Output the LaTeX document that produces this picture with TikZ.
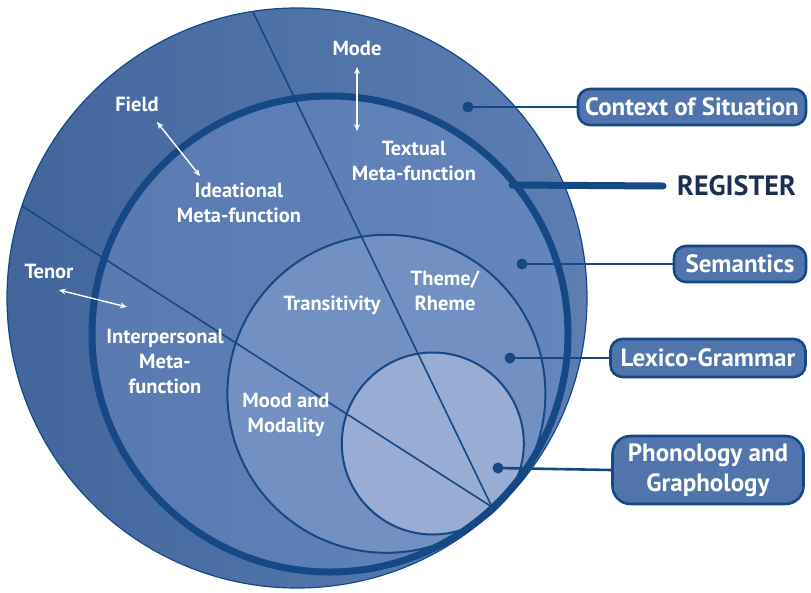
\documentclass[tikz,border=0pt]{standalone}
\usepackage{fontspec}
\setmainfont{PT Sans}
\usetikzlibrary{arrows.meta}
\definecolor{ringAl}{RGB}{66,102,156}
\definecolor{ringAr}{RGB}{92,126,178}
\definecolor{ringBl}{RGB}{88,122,176}
\definecolor{ringBr}{RGB}{100,134,188}
\definecolor{ringC}{RGB}{114,144,194}
\definecolor{ringD}{RGB}{152,172,212}
\definecolor{edge}{RGB}{22,72,134}
\definecolor{boxfill}{RGB}{82,116,172}
\definecolor{regtext}{RGB}{28,48,78}
\tikzset{
  lbl/.style={text=white, font=\bfseries\fontsize{20.5}{25}\selectfont, align=center, inner sep=0pt},
  boxlbl/.style={draw=edge, line width=2.6pt, fill=boxfill, rounded corners=12pt, text=white,
     font=\bfseries\fontsize{25}{30}\selectfont, align=center, inner sep=0pt},
  dotnode/.style={circle, fill=edge, minimum size=11pt, inner sep=0pt},
  conn/.style={draw=edge, line width=2.6pt},
  thin/.style={draw=edge, line width=2pt},
  warrow/.style={draw=white, line width=1.4pt, {Stealth[length=7pt,width=6pt]}-{Stealth[length=7pt,width=6pt]}}
}
\begin{document}
\begin{tikzpicture}[x=1pt,y=-1pt]
\useasboundingbox (0,0) rectangle (811,592);
% circles
\shade[left color=ringAl, right color=ringAr] (297,298) circle[radius=290pt];
\shade[left color=ringBl, right color=ringBr] (330,334) circle[radius=241pt];
\fill[ringC] (386.4,393.8) circle[radius=159pt];
\fill[ringD] (432.8,443.5) circle[radius=91pt];
% radial lines
\coordinate (T) at (492,507);
\coordinate (L1) at (253,12);
\coordinate (L2) at (22,206);
\draw[thin, line width=1.6pt] (L1) -- (T);
\draw[thin, line width=1.6pt] (L2) -- (T);
% outlines
\draw[edge, line width=1.2pt] (297,298) circle[radius=290pt];
\draw[thin] (386.4,393.8) circle[radius=159pt];
\draw[thin] (432.8,443.5) circle[radius=91pt];
\draw[edge, line width=7pt] (330,334) circle[radius=238pt];
% labels
\node[lbl] (mode) at (357,48) {Mode};
\node[lbl] (field) at (137,104) {Field};
\node[lbl] (ideat) at (239,203) {Ideational\\Meta-function};
\node[lbl] (textual) at (414,161) {Textual\\Meta-function};
\node[lbl] (tenor) at (49,271) {Tenor};
\node[lbl] (inter) at (165,361) {Interpersonal\\Meta-\\function};
\node[lbl] (trans) at (332,305) {Transitivity};
\node[lbl] (theme) at (445,291) {Theme/\\Rheme};
\node[lbl] (mood) at (286,415) {Mood and\\Modality};
% white arrows
\coordinate (m1) at (357,67);
\coordinate (m2) at (357,131);
\coordinate (f1) at (157,122);
\coordinate (f2) at (200,176);
\coordinate (t1) at (59,290);
\coordinate (t2) at (127,307);
\draw[warrow] (m1) -- (m2);
\draw[warrow] (f1) -- (f2);
\draw[warrow] (t1) -- (t2);
% boxes
\node[boxlbl, minimum width=228pt, minimum height=36pt] (ctx) at (692,107) {Context of Situation};
\node[boxlbl, minimum width=132pt, minimum height=36pt] (sem) at (740,264) {Semantics};
\node[boxlbl, minimum width=195pt, minimum height=38pt] (lex) at (708,358) {Lexico-Grammar};
\node[boxlbl, minimum width=191pt, minimum height=68pt, rounded corners=18pt] (pho) at (708,470) {Phonology and\\Graphology};
\node[text=regtext, font=\bfseries\fontsize{28}{30}\selectfont, inner sep=0pt, anchor=west] (reg) at (677,186) {REGISTER};
% dots and connectors
\node[dotnode] (dctx) at (468,107) {};
\node[dotnode] (dsem) at (522,264) {};
\node[dotnode] (dlex) at (510,358) {};
\node[dotnode] (dpho) at (498,468) {};
\draw[conn] (dctx.center) -- (ctx.west);
\draw[conn] (dsem.center) -- (sem.west);
\draw[conn] (dlex.center) -- (lex.west);
\draw[conn] (dpho.center) -- (pho.west);
\coordinate (rs) at (512,185);
\draw[edge, line width=7pt, line cap=round] (rs) -- ([xshift=-14pt]reg.west);
\end{tikzpicture}
\end{document}
